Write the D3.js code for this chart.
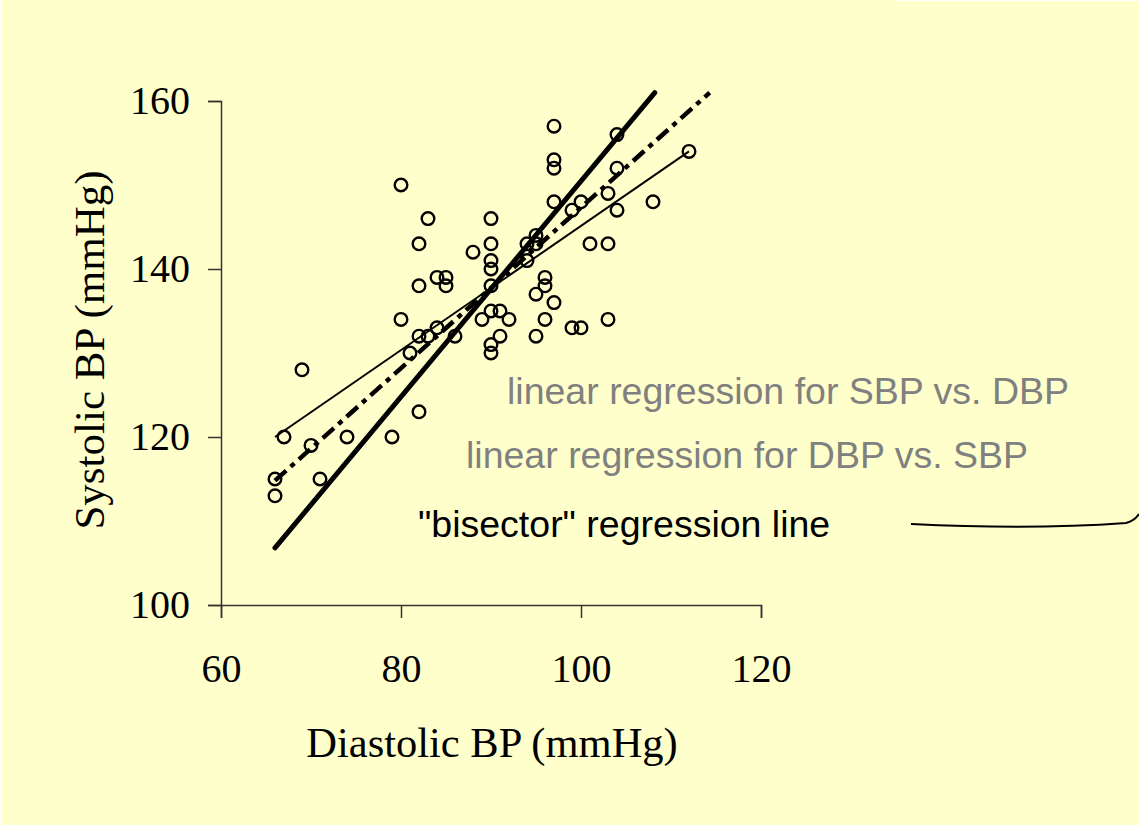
<!DOCTYPE html>
<html>
<head>
<meta charset="utf-8">
<script src="https://cdn.jsdelivr.net/npm/d3@7"></script>
<style>
  body { margin: 0; background: #ffffff; }
  svg { display: block; }
</style>
</head>
<body>
<div id="chart"></div>
<script>
// diastolic / systolic pairs
var dbp = [66, 66, 67, 69, 70, 71, 74, 79, 80, 80, 81, 82, 82, 82, 82, 83, 83, 84, 84, 85, 85, 86,
           88, 89, 90, 90, 90, 90, 90, 90, 90, 90, 91, 91, 92, 94, 94, 95, 95, 95, 95, 96, 96, 96,
           97, 97, 97, 97, 97, 99, 99, 100, 100, 101, 103, 103, 103, 104, 104, 104, 108, 112];
var sbp = [115, 113, 120, 128, 119, 115, 120, 120, 150, 134, 130, 143, 138, 132, 123, 146, 132, 139, 133, 139, 138, 132,
           142, 134, 146, 143, 141, 140, 138, 135, 131, 130, 135, 132, 134, 143, 141, 144, 143, 137, 132, 139, 138, 134,
           157, 153, 152, 148, 136, 133, 147, 148, 133, 143, 149, 143, 134, 156, 152, 147, 148, 154];

// fitted lines, end points in data units
var sbpOnDbp = [[66, 120], [112, 154]];
var dbpOnSbp = [[66, 114.8], [114.3, 161]];
var bisector = [[66, 106.8], [108.2, 161]];

var xTicks = [60, 80, 100, 120];
var yTicks = [100, 120, 140, 160];

var width = 1139, height = 825;

var svg = d3.select('#chart')
    .append('svg')
    .attr('width', width)
    .attr('height', height);

svg.append('rect')
    .attr('x', 2).attr('y', 0)
    .attr('width', width - 2).attr('height', height)
    .attr('fill', '#ffffcc');

var x = d3.scaleLinear().domain([60, 120]).range([221, 761]);
var y = d3.scaleLinear().domain([100, 160]).range([605, 101]);

var xAxis = svg.append('g')
    .attr('transform', 'translate(0,605)')
    .call(d3.axisBottom(x).tickValues(xTicks).tickSize(13).tickPadding(36));

var yAxis = svg.append('g')
    .attr('transform', 'translate(221,0)')
    .call(d3.axisLeft(y).tickValues(yTicks).tickSize(13).tickPadding(18));

[xAxis, yAxis].forEach(function(a) {
    a.select('.domain').attr('stroke', '#333').attr('stroke-width', 1.5);
    a.selectAll('.tick line').attr('stroke', '#333').attr('stroke-width', 1.5);
    a.selectAll('.tick text')
        .attr('fill', '#000')
        .style('font-family', '"Liberation Serif", "Times New Roman", serif')
        .style('font-size', '40px');
});
xAxis.selectAll('.tick text').attr('dy', '0.71em');

svg.append('text')
    .attr('x', 492).attr('y', 757)
    .attr('text-anchor', 'middle')
    .style('font-family', '"Liberation Serif", "Times New Roman", serif')
    .style('font-size', '42.5px')
    .text('Diastolic BP (mmHg)');

svg.append('text')
    .attr('transform', 'translate(104,350) rotate(-90)')
    .attr('text-anchor', 'middle')
    .style('font-family', '"Liberation Serif", "Times New Roman", serif')
    .style('font-size', '43px')
    .text('Systolic BP (mmHg)');

var line = d3.line()
    .x(function(d) { return x(d[0]); })
    .y(function(d) { return y(d[1]); });

svg.append('path')
    .attr('d', line(sbpOnDbp))
    .attr('fill', 'none')
    .attr('stroke', '#000')
    .attr('stroke-width', 2);

svg.append('path')
    .attr('d', line(dbpOnSbp))
    .attr('fill', 'none')
    .attr('stroke', '#000')
    .attr('stroke-width', 4.5)
    .attr('stroke-dasharray', '15,6,5,6');

svg.append('path')
    .attr('d', line(bisector))
    .attr('fill', 'none')
    .attr('stroke', '#000')
    .attr('stroke-width', 5)
    .attr('stroke-linecap', 'round');

svg.selectAll('.pt')
    .data(dbp)
    .enter()
    .append('circle')
    .attr('class', 'pt')
    .attr('cx', function(d) { return x(d); })
    .attr('cy', function(d, i) { return y(sbp[i]); })
    .attr('r', 6.3)
    .attr('fill', 'none')
    .attr('stroke', '#000')
    .attr('stroke-width', 2.4);

var labels = [
    { text: 'linear regression for SBP vs. DBP', x: 507, y: 404, color: '#808080' },
    { text: 'linear regression for DBP vs. SBP', x: 466, y: 468, color: '#808080' },
    { text: '"bisector" regression line', x: 418, y: 537, color: '#000000' }
];

svg.selectAll('.lbl')
    .data(labels)
    .enter()
    .append('text')
    .attr('class', 'lbl')
    .attr('x', function(d) { return d.x; })
    .attr('y', function(d) { return d.y; })
    .attr('fill', function(d) { return d.color; })
    .style('font-family', '"Liberation Sans", Arial, sans-serif')
    .style('font-size', '37.5px')
    .text(function(d) { return d.text; });

// connector stroke at the lower right
svg.append('path')
    .attr('d', 'M911,524 Q1030,530 1126,523 Q1134,521 1139,514')
    .attr('fill', 'none')
    .attr('stroke', '#000')
    .attr('stroke-width', 2);

svg.append('rect')
    .attr('x', 897).attr('y', 0)
    .attr('width', width - 897).attr('height', 1)
    .attr('fill', '#ffffff');
</script>
</body>
</html>
